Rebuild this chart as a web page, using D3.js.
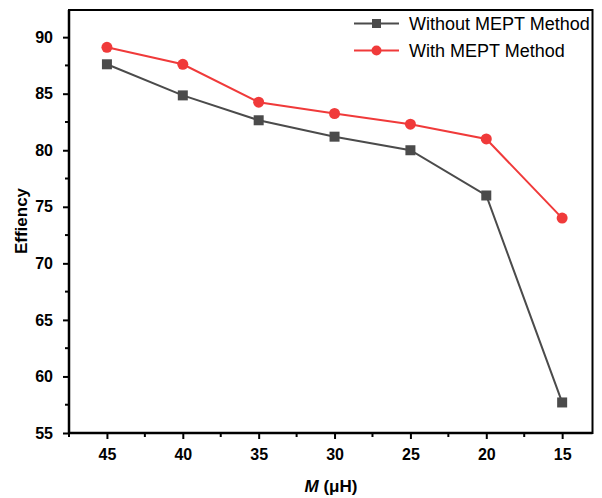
<!DOCTYPE html>
<html>
<head>
<meta charset="utf-8">
<script src="https://cdn.jsdelivr.net/npm/d3@7"></script>
<style>
body{margin:0;background:#fff;}
svg{display:block;font-family:Arial,"Liberation Sans",sans-serif;}
</style>
</head>
<body>
<svg id="chart" width="602" height="498"></svg>
<script>
const mValues = [45, 40, 35, 30, 25, 20, 15];
const withoutMEPT = [87.6, 84.85, 82.65, 81.2, 80.0, 76.0, 57.7];
const withMEPT = [89.1, 87.6, 84.25, 83.25, 82.3, 81.0, 74.0];
const yTicks = [55, 60, 65, 70, 75, 80, 85, 90];
const seriesNames = ["Without MEPT Method", "With MEPT Method"];

(function(){
const svg = d3.select("#chart");
const pL = 69, pR = 592.5, pT = 10, pB = 433;
const x = d3.scaleLinear().domain([47.5, 13]).range([pL, pR]);
const y = d3.scaleLinear().domain([55, 92.4]).range([pB, pT]);

const grey = "#4b4b4b", red = "#f03a3a";
const fam = "Arial, 'Liberation Sans', sans-serif";

// frame
svg.append("rect").attr("x", pL).attr("y", pT).attr("width", pR-pL).attr("height", pB-pT)
  .attr("fill","none").attr("stroke","#000").attr("stroke-width",2);

// x axis
const xMinor = [47.5, 42.5, 37.5, 32.5, 27.5, 22.5, 17.5];
const xAxis = svg.append("g").attr("transform", `translate(0,${pB})`);
xAxis.call(d3.axisBottom(x).tickValues(mValues).tickSize(6).tickPadding(10).tickFormat(d3.format("d")));
xAxis.append("g").selectAll("line").data(xMinor).join("line")
  .attr("x1", d => x(d)).attr("x2", d => x(d)).attr("y1", 0).attr("y2", 4)
  .attr("stroke","#000").attr("stroke-width",2);
xAxis.select(".domain").attr("stroke-width",2.5).attr("d", `M${pL},0H${pR}`);
xAxis.selectAll(".tick line").attr("stroke-width",2);
xAxis.selectAll(".tick text").attr("font-size",16).attr("font-weight","bold").attr("fill","#000")
  .attr("font-family",fam);

// y axis
const yMinor = d3.range(57.5, 92.5, 5);
const yAxis = svg.append("g").attr("transform", `translate(${pL},0)`);
yAxis.call(d3.axisLeft(y).tickValues(yTicks).tickSize(6).tickPadding(10).tickFormat(d3.format("d")));
yAxis.append("g").selectAll("line").data(yMinor).join("line")
  .attr("y1", d => y(d)).attr("y2", d => y(d)).attr("x1", 0).attr("x2", -4)
  .attr("stroke","#000").attr("stroke-width",2);
yAxis.select(".domain").attr("stroke-width",2.5).attr("d", `M0,${pT}V${pB}`);
yAxis.selectAll(".tick line").attr("stroke-width",2);
yAxis.selectAll(".tick text").attr("font-size",16).attr("font-weight","bold").attr("fill","#000")
  .attr("font-family",fam);

// titles
svg.append("text").attr("transform","translate(27,221) rotate(-90)").attr("text-anchor","middle")
  .attr("font-size",17).attr("font-weight","bold").text("Effiency");
const xt = svg.append("text").attr("x", 331).attr("y", 492).attr("text-anchor","middle")
  .attr("font-size",17).attr("font-weight","bold");
xt.append("tspan").attr("font-style","italic").text("M");
xt.append("tspan").text(" (μH)");

// lines
const line = d3.line().x((d,i) => x(mValues[i])).y(d => y(d));
svg.append("path").datum(withoutMEPT).attr("d", line).attr("fill","none").attr("stroke",grey).attr("stroke-width",2);
svg.append("path").datum(withMEPT).attr("d", line).attr("fill","none").attr("stroke",red).attr("stroke-width",2);

const sq = 10;
svg.append("g").selectAll("rect").data(withoutMEPT).join("rect")
  .attr("x", (d,i) => x(mValues[i]) - sq/2).attr("y", d => y(d) - sq/2)
  .attr("width", sq).attr("height", sq).attr("fill", grey);
svg.append("g").selectAll("circle").data(withMEPT).join("circle")
  .attr("cx", (d,i) => x(mValues[i])).attr("cy", d => y(d)).attr("r", 5.5).attr("fill", red);

// legend
const leg = svg.append("g");
const legItems = [{name: seriesNames[0], color: grey, shape: "sq", yy: 23.5},
                  {name: seriesNames[1], color: red, shape: "c", yy: 50.5}];
legItems.forEach(it => {
  leg.append("line").attr("x1",354).attr("x2",399).attr("y1",it.yy).attr("y2",it.yy)
    .attr("stroke",it.color).attr("stroke-width",2);
  if (it.shape === "sq") {
    leg.append("rect").attr("x",376.5-4.5).attr("y",it.yy-4.5).attr("width",9).attr("height",9).attr("fill",it.color);
  } else {
    leg.append("circle").attr("cx",376.5).attr("cy",it.yy).attr("r",5).attr("fill",it.color);
  }
  leg.append("text").attr("x",409).attr("y",it.yy).attr("dy","0.35em").attr("font-size",18)
    .attr("fill","#000").attr("font-family",fam).text(it.name);
});
})();
</script>
</body>
</html>
